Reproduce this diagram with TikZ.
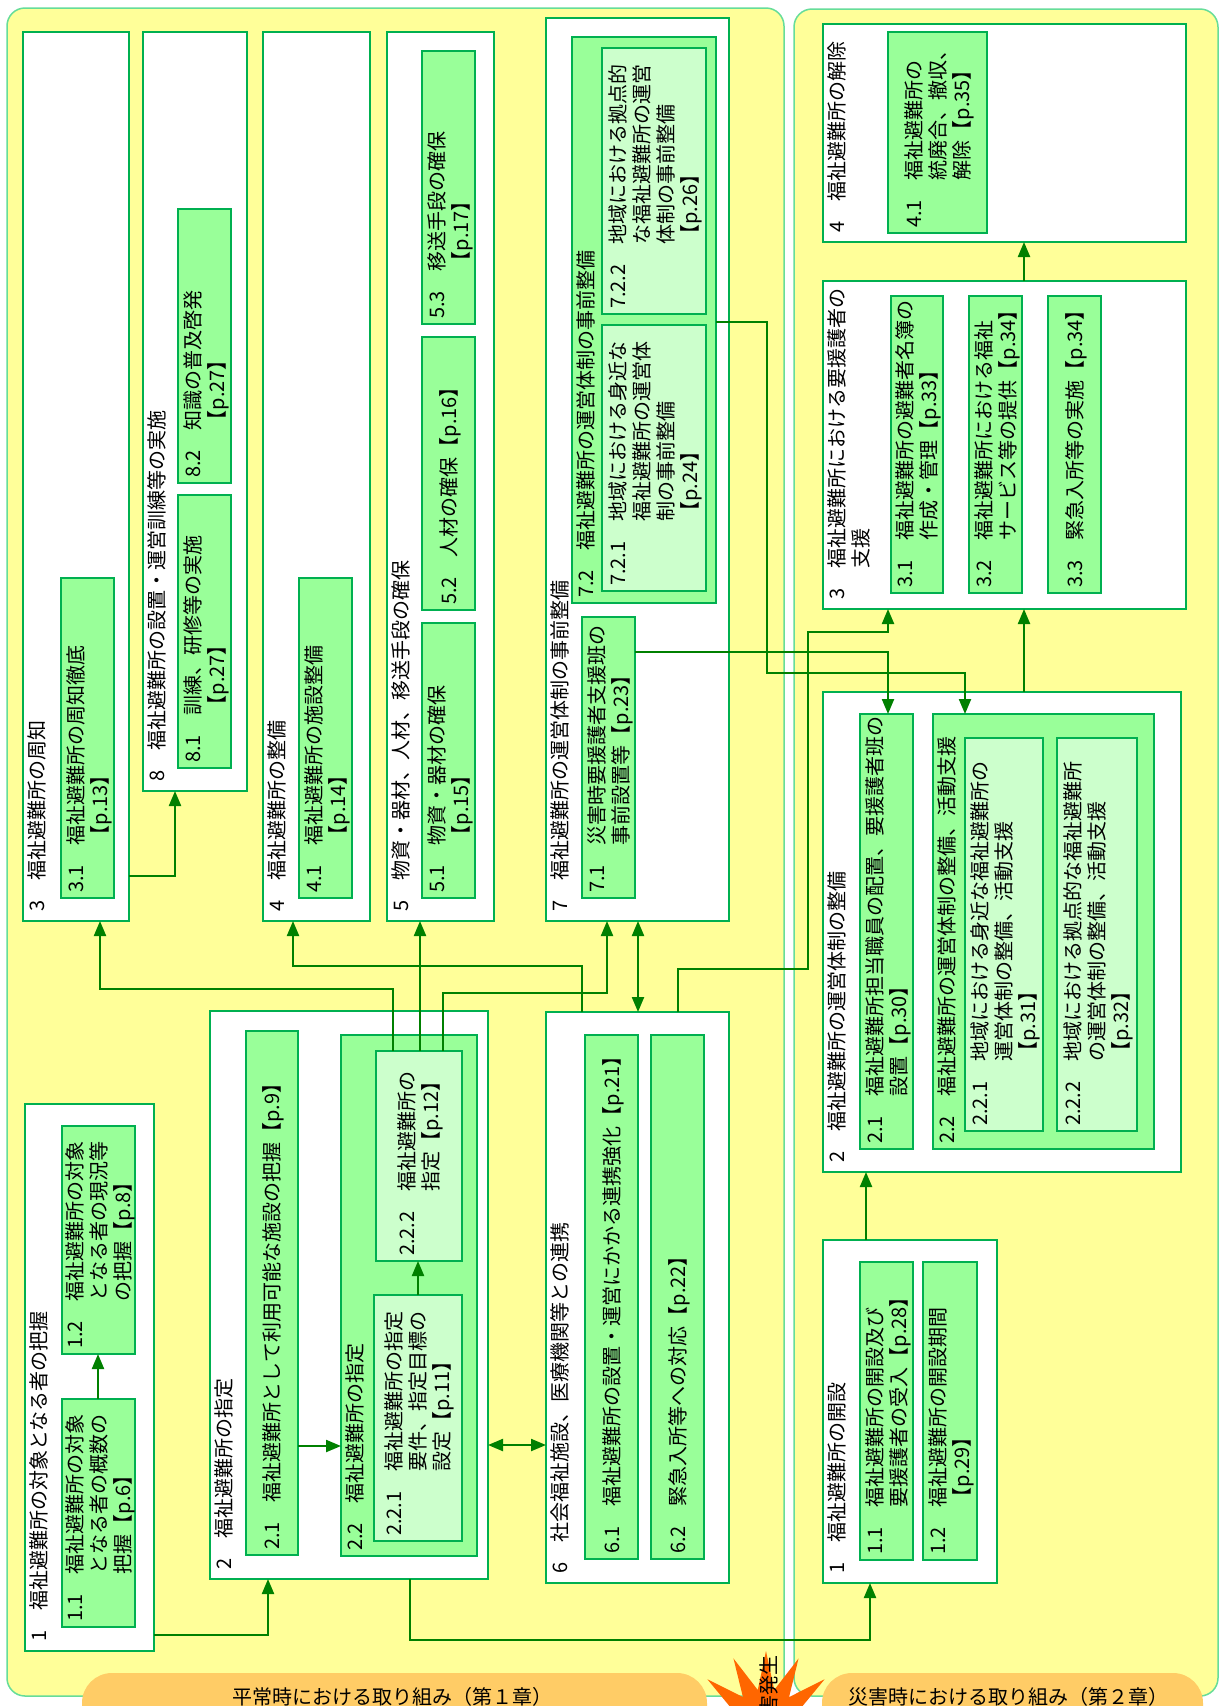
\documentclass[tikz,border=0pt]{standalone}
\usepackage{fontspec}
\setmainfont{Noto Sans CJK JP}
\usetikzlibrary{arrows.meta,shapes.symbols}
\definecolor{bgreen}{HTML}{00B050}
\definecolor{dgreen}{HTML}{008000}
\definecolor{lgreen}{HTML}{99FF99}
\definecolor{llgreen}{HTML}{CCFFCC}
\definecolor{pgreen}{HTML}{66DD99}
\definecolor{pyellow}{HTML}{FFFF99}
\definecolor{lorange}{HTML}{FFCC66}
\definecolor{sorange}{HTML}{FF6600}
\newcommand\tb[2]{\begin{tabular}{@{}l@{\hspace{1em}}l@{}}#1&#2\end{tabular}}
\newcommand\mkbox[6]{\node[#1,minimum width={(#5-#3)*1pt},minimum height={(#6-#4)*1pt}] (#2) at (#3,#4) {};}
\newcommand\subt[4]{\node[txt,anchor=west] (#1) at ([xshift=3pt,yshift=5pt]#2.south) {\tb{#3}{#4}};}
\newcommand\ttl[4]{\node[txt,anchor=north west] (#1) at ([xshift=4pt,yshift=#4pt]#2.south west) {#3};}
\begin{document}
\begin{tikzpicture}[x=1pt,y=-1pt,
  box/.style={draw=bgreen,line width=2pt,anchor=north west,inner sep=0pt,outer sep=0pt},
  obox/.style={box,fill=white},
  sbox/.style={box,fill=lgreen},
  ssbox/.style={box,fill=llgreen},
  panel/.style={draw=pgreen,line width=1.5pt,fill=pyellow,rounded corners=18pt,anchor=north west,inner sep=0pt,outer sep=0pt},
  lab/.style={fill=lorange,draw=none,rounded corners=30pt,anchor=north west,inner sep=0pt,outer sep=0pt},
  txt/.style={rotate=90,inner sep=0pt,font=\fontsize{20pt}{24pt}\selectfont},
  htxt/.style={inner sep=0pt,font=\fontsize{20pt}{24pt}\selectfont},
  arr/.style={draw=dgreen,line width=2.2pt,-{Triangle[length=15pt,width=12pt]}},
  dbl/.style={draw=dgreen,line width=2.2pt,{Triangle[length=15pt,width=12pt]}-{Triangle[length=15pt,width=12pt]}},
]
\useasboundingbox (0,0) rectangle (1219,1706);
\clip (0,0) rectangle (1219,1706);
\fill[white] (0,0) rectangle (1219,1706);
% panels
\mkbox{panel}{P1}{7}{8}{784}{1696}
\mkbox{panel}{P2}{794}{9}{1218}{1696}
% left boxes
\mkbox{obox}{L1}{25}{1104}{154}{1651}
\mkbox{sbox}{L11}{62}{1399}{135}{1627}
\mkbox{sbox}{L12}{62}{1126}{135}{1354}
\mkbox{obox}{L2}{210}{1011}{488}{1579}
\mkbox{sbox}{L21}{246}{1031}{298}{1555}
\mkbox{sbox}{L22}{341}{1035}{477}{1556}
\mkbox{ssbox}{L221}{374}{1295}{462}{1541}
\mkbox{ssbox}{L222}{376}{1051}{462}{1261}
\mkbox{obox}{L6}{546}{1012}{729}{1583}
\mkbox{sbox}{L61}{585}{1035}{638}{1559}
\mkbox{sbox}{L62}{651}{1035}{704}{1559}
\mkbox{obox}{L3}{23}{32}{129}{921}
\mkbox{sbox}{L31}{61}{578}{114}{898}
\mkbox{obox}{L8}{143}{32}{247}{791}
\mkbox{sbox}{L81}{178}{495}{231}{768}
\mkbox{sbox}{L82}{178}{209}{231}{483}
\mkbox{obox}{L4}{263}{32}{370}{921}
\mkbox{sbox}{L41}{299}{578}{352}{898}
\mkbox{obox}{L5}{387}{32}{494}{921}
\mkbox{sbox}{L51}{422}{623}{475}{898}
\mkbox{sbox}{L52}{422}{337}{475}{610}
\mkbox{sbox}{L53}{422}{51}{475}{324}
\mkbox{obox}{L7}{546}{18}{729}{921}
\mkbox{sbox}{L71}{582}{617}{635}{898}
\mkbox{sbox}{L72}{572}{37}{716}{603}
\mkbox{ssbox}{L721}{602}{325}{706}{591}
\mkbox{ssbox}{L722}{602}{48}{706}{314}
% right boxes
\mkbox{obox}{R4}{823}{24}{1186}{242}
\mkbox{sbox}{R41}{888}{32}{987}{233}
\mkbox{obox}{R3}{823}{281}{1186}{609}
\mkbox{sbox}{R31}{891}{296}{943}{593}
\mkbox{sbox}{R32}{969}{296}{1022}{593}
\mkbox{sbox}{R33}{1048}{296}{1101}{593}
\mkbox{obox}{R2}{823}{692}{1181}{1172}
\mkbox{sbox}{R21}{860}{714}{913}{1149}
\mkbox{sbox}{R22}{933}{714}{1154}{1149}
\mkbox{ssbox}{R221}{965}{738}{1043}{1131}
\mkbox{ssbox}{R222}{1057}{738}{1137}{1131}
\mkbox{obox}{R1}{823}{1240}{997}{1583}
\mkbox{sbox}{R11}{860}{1262}{913}{1560}
\mkbox{sbox}{R12}{923}{1262}{977}{1560}
% titles
\ttl{tL1}{L1}{\tb{1}{福祉避難所の対象となる者の把握}}{9}
\ttl{tL2}{L2}{\tb{2}{福祉避難所の指定}}{9}
\ttl{tL22}{L22}{\tb{2.2}{福祉避難所の指定}}{5}
\ttl{tL6}{L6}{\tb{6}{社会福祉施設、医療機関等との連携}}{9}
\ttl{tL3}{L3}{\tb{3}{福祉避難所の周知}}{9}
\ttl{tL8}{L8}{\tb{8}{福祉避難所の設置・運営訓練等の実施}}{9}
\ttl{tL4}{L4}{\tb{4}{福祉避難所の整備}}{9}
\ttl{tL5}{L5}{\tb{5}{物資・器材、人材、移送手段の確保}}{9}
\ttl{tL7}{L7}{\tb{7}{福祉避難所の運営体制の事前整備}}{9}
\ttl{tL72}{L72}{\tb{7.2}{福祉避難所の運営体制の事前整備}}{5}
\ttl{tR4}{R4}{\tb{4}{福祉避難所の解除}}{9}
\ttl{tR3}{R3}{\tb{3}{福祉避難所における要援護者の\\&支援}}{9}
\ttl{tR2}{R2}{\tb{2}{福祉避難所の運営体制の整備}}{9}
\ttl{tR22}{R22}{\tb{2.2}{福祉避難所の運営体制の整備、活動支援}}{5}
\ttl{tR1}{R1}{\tb{1}{福祉避難所の開設}}{9}
% sub texts
\subt{tL11}{L11}{1.1}{福祉避難所の対象\\&となる者の概数の\\&把握【p.6】}
\subt{tL12}{L12}{1.2}{福祉避難所の対象\\&となる者の現況等\\&の把握【p.8】}
\subt{tL21}{L21}{2.1}{福祉避難所として利用可能な施設の把握【p.9】}
\subt{tL221}{L221}{2.2.1}{福祉避難所の指定\\&要件、指定目標の\\&設定【p.11】}
\subt{tL222}{L222}{2.2.2}{福祉避難所の\\&指定【p.12】}
\subt{tL61}{L61}{6.1}{福祉避難所の設置・運営にかかる連携強化【p.21】}
\subt{tL62}{L62}{6.2}{緊急入所等への対応【p.22】}
\subt{tL31}{L31}{3.1}{福祉避難所の周知徹底\\&【p.13】}
\subt{tL81}{L81}{8.1}{訓練、研修等の実施\\&【p.27】}
\subt{tL82}{L82}{8.2}{知識の普及啓発\\&【p.27】}
\subt{tL41}{L41}{4.1}{福祉避難所の施設整備\\&【p.14】}
\subt{tL51}{L51}{5.1}{物資・器材の確保\\&【p.15】}
\subt{tL52}{L52}{5.2}{人材の確保【p.16】}
\subt{tL53}{L53}{5.3}{移送手段の確保\\&【p.17】}
\subt{tL71}{L71}{7.1}{災害時要援護者支援班の\\&事前設置等【p.23】}
\subt{tL721}{L721}{7.2.1}{地域における身近な\\&福祉避難所の運営体\\&制の事前整備\\&【p.24】}
\subt{tL722}{L722}{7.2.2}{地域における拠点的\\&な福祉避難所の運営\\&体制の事前整備\\&【p.26】}
\subt{tR41}{R41}{4.1}{福祉避難所の\\&統廃合、撤収、\\&解除【p.35】}
\subt{tR31}{R31}{3.1}{福祉避難所の避難者名簿の\\&作成・管理【p.33】}
\subt{tR32}{R32}{3.2}{福祉避難所における福祉\\&サービス等の提供【p.34】}
\subt{tR33}{R33}{3.3}{緊急入所等の実施【p.34】}
\subt{tR21}{R21}{2.1}{福祉避難所担当職員の配置、要援護者班の\\&設置【p.30】}
\subt{tR221}{R221}{2.2.1}{地域における身近な福祉避難所の\\&運営体制の整備、活動支援\\&【p.31】}
\subt{tR222}{R222}{2.2.2}{地域における拠点的な福祉避難所\\&の運営体制の整備、活動支援\\&【p.32】}
\subt{tR11}{R11}{1.1}{福祉避難所の開設及び\\&要援護者の受入【p.28】}
\subt{tR12}{R12}{1.2}{福祉避難所の開設期間\\&【p.29】}
% connector coordinates
\coordinate (c1) at (98,0);
\coordinate (c2) at (268,1635);
\coordinate (c3) at (0,1446);
\coordinate (c4) at (418,0);
\coordinate (c5) at (0,1445);
\coordinate (c6a) at (393,989);
\coordinate (c6b) at (100,989);
\coordinate (c7) at (420,0);
\coordinate (c8a) at (443,993);
\coordinate (c8b) at (607,993);
\coordinate (c9a) at (582,966);
\coordinate (c9b) at (293,966);
\coordinate (c10) at (638,0);
\coordinate (c11a) at (678,969);
\coordinate (c11b) at (808,969);
\coordinate (c11c) at (808,632);
\coordinate (c11d) at (888,632);
\coordinate (c12) at (888,652);
\coordinate (c13a) at (767,322);
\coordinate (c13b) at (767,673);
\coordinate (c13c) at (965,673);
\coordinate (c14) at (175,876);
\coordinate (c15a) at (410,1640);
\coordinate (c15b) at (870,1640);
\coordinate (c16) at (866,0);
\coordinate (c17) at (1024,0);
% connectors
\draw[arr] (L11.north -| c1) -- (L12.south -| c1);
\draw[arr] (L1.east |- c2) -| (L2.south -| c2);
\draw[arr] (L21.east |- c3) -- (L22.west |- c3);
\draw[arr] (L221.north -| c4) -- (L222.south -| c4);
\draw[dbl] (L2.east |- c5) -- (L6.west |- c5);
\draw[arr] (L222.north -| c6a) -- (c6a) -- (c6b) -- (L3.south -| c6b);
\draw[arr] (L222.north -| c7) -- (L5.south -| c7);
\draw[arr] (L222.north -| c8a) -- (c8a) -- (c8b) -- (L7.south -| c8b);
\draw[arr] (L6.north -| c9a) -- (c9a) -- (c9b) -- (L4.south -| c9b);
\draw[dbl] (L7.south -| c10) -- (L6.north -| c10);
\draw[arr] (L6.north -| c11a) -- (c11a) -- (c11b) -- (c11c) -- (c11d) -- (R3.south -| c11d);
\draw[arr] (L71.east |- c12) -- (c12) -- (R21.north -| c12);
\draw[arr] (L72.east |- c13a) -- (c13a) -- (c13b) -- (c13c) -- (R22.north -| c13c);
\draw[arr] (L3.east |- c14) -| (L8.south -| c14);
\draw[arr] (L2.south -| c15a) -- (c15a) -- (c15b) -- (R1.south -| c15b);
\draw[arr] (R1.north -| c16) -- (R2.south -| c16);
\draw[arr] (R2.north -| c17) -- (R3.south -| c17);
\draw[arr] (R3.north -| c17) -- (R4.south -| c17);
% bottom labels
\mkbox{lab}{OL}{82}{1673}{707}{1770}
\mkbox{lab}{OR}{822}{1673}{1203}{1770}
\node[htxt,anchor=base] (tOL) at (392,1704) {平常時における取り組み（第１章）};
\node[htxt,anchor=base] (tOR) at (1008,1704) {災害時における取り組み（第２章）};
\node[starburst,fill=sorange,draw=none,minimum width=150pt,minimum height=150pt,starburst points=14,starburst point height=38pt,random starburst=0] (SB) at (766,1726) {};
\node[txt,anchor=east] (tSB) at (769,1655) {災害発生};
\end{tikzpicture}
\end{document}
